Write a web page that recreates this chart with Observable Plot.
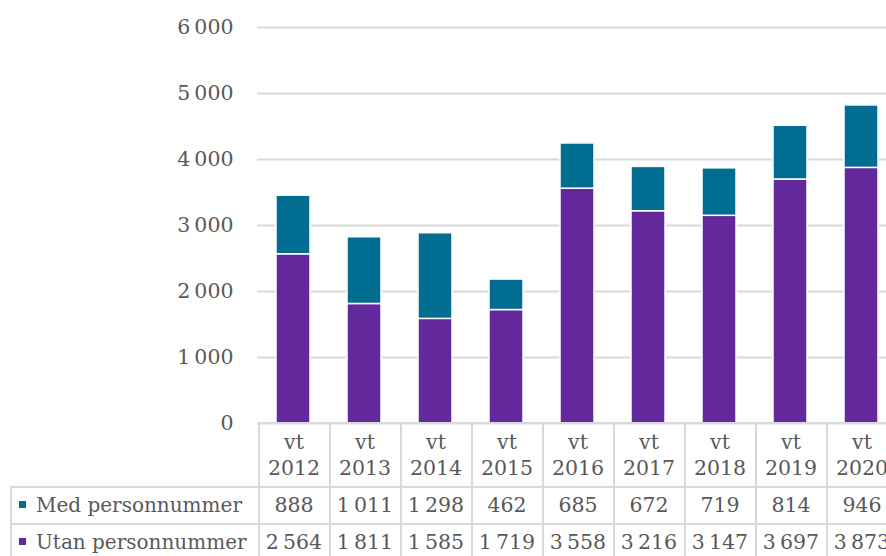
<!DOCTYPE html>
<html>
<head>
<meta charset="utf-8">
<script src="https://cdn.jsdelivr.net/npm/d3@7"></script>
<script src="https://cdn.jsdelivr.net/npm/@observablehq/plot@0.6"></script>
<style>
  html, body { margin: 0; padding: 0; background: #fff; }
  #wrap { position: relative; width: 886px; height: 556px; overflow: hidden; font-family: "DejaVu Serif", serif; color: #595959; }
  #chart { position: absolute; left: 0; top: 0; }
  #chart svg { max-width: none !important; overflow: visible !important; }
  table { position: absolute; border-collapse: collapse; table-layout: fixed; font-size: 20.5px; color: #595959; }
  td { border: 2px solid #d9d9d9; text-align: center; padding: 0; white-space: nowrap; }
  td.lab { text-align: left; padding-left: 7px; font-size: 20px; }
  td.blank { border: none; }
  .key { display: inline-block; width: 7px; height: 7px; margin-right: 10px; vertical-align: middle; position: relative; top: -2px; }
  tr.head td { height: 62px; line-height: 26px; }
  tr.row td { height: 35px; line-height: 35px; }
</style>
</head>
<body>
<div id="wrap"><div id="chart"></div></div>
<script>
const categories = ["vt 2012", "vt 2013", "vt 2014", "vt 2015", "vt 2016", "vt 2017", "vt 2018", "vt 2019", "vt 2020"];
const series = ["Med personnummer", "Utan personnummer"];
const medValues = [888, 1011, 1298, 462, 685, 672, 719, 814, 946];
const utanValues = [2564, 1811, 1585, 1719, 3558, 3216, 3147, 3697, 3873];
const colors = ["#006d91", "#62289c"];
const yTicks = [0, 1000, 2000, 3000, 4000, 5000, 6000];

const fmt = d => d3.format(",")(d).replace(/,/g, "\u202F");

const rows = [];
categories.forEach((c, i) => {
  rows.push({cat: c, series: series[1], value: utanValues[i]});
  rows.push({cat: c, series: series[0], value: medValues[i]});
});

const plot = Plot.plot({
  width: 900,
  height: 424,
  marginLeft: 257,
  marginRight: 3,
  marginTop: 27,
  marginBottom: 1,
  style: {fontFamily: "DejaVu Serif", fontSize: "20.5px", color: "#595959", background: "transparent", maxWidth: "none", overflow: "visible"},
  x: {domain: categories, axis: null, paddingInner: 0.52, paddingOuter: 0.26},
  y: {domain: [0, 6000], ticks: yTicks, tickSize: 0, tickPadding: 24, tickFormat: fmt, label: null},
  color: {domain: series, range: colors},
  marks: [
    Plot.gridY(yTicks, {stroke: "#d9d9d9", strokeOpacity: 1, strokeWidth: 2}),
    Plot.barY(rows, {
      x: "cat", y: "value", fill: "series",
      order: ["Utan personnummer", "Med personnummer"],
      stroke: "white", strokeWidth: 1.5
    })
  ]
});
document.getElementById("chart").appendChild(plot);

// Data table aligned to the x scale
const xs = plot.scale("x");
const step = xs.step;
const firstLeft = xs.apply(categories[0]) - (step - xs.bandwidth) / 2;
const labelLeft = 10;
const table = document.createElement("table");
table.style.left = labelLeft + "px";
table.style.top = "422px";
const colgroup = document.createElement("colgroup");
const c0 = document.createElement("col");
c0.style.width = (firstLeft - labelLeft) + "px";
colgroup.appendChild(c0);
categories.forEach(() => {
  const c = document.createElement("col");
  c.style.width = step + "px";
  colgroup.appendChild(c);
});
table.appendChild(colgroup);
table.style.width = (firstLeft - labelLeft + step * categories.length) + "px";

const head = document.createElement("tr");
head.className = "head";
const blank = document.createElement("td");
blank.className = "blank";
head.appendChild(blank);
categories.forEach(c => {
  const td = document.createElement("td");
  const parts = c.split(" ");
  td.innerHTML = parts[0] + "<br>" + parts[1];
  head.appendChild(td);
});
table.appendChild(head);

[[series[0], medValues, colors[0]], [series[1], utanValues, colors[1]]].forEach(([name, vals, col]) => {
  const tr = document.createElement("tr");
  tr.className = "row";
  const lab = document.createElement("td");
  lab.className = "lab";
  const key = document.createElement("span");
  key.className = "key";
  key.style.background = col;
  lab.appendChild(key);
  lab.appendChild(document.createTextNode(name));
  tr.appendChild(lab);
  vals.forEach(v => {
    const td = document.createElement("td");
    td.textContent = fmt(v);
    tr.appendChild(td);
  });
  table.appendChild(tr);
});
document.getElementById("wrap").appendChild(table);
</script>
</body>
</html>
